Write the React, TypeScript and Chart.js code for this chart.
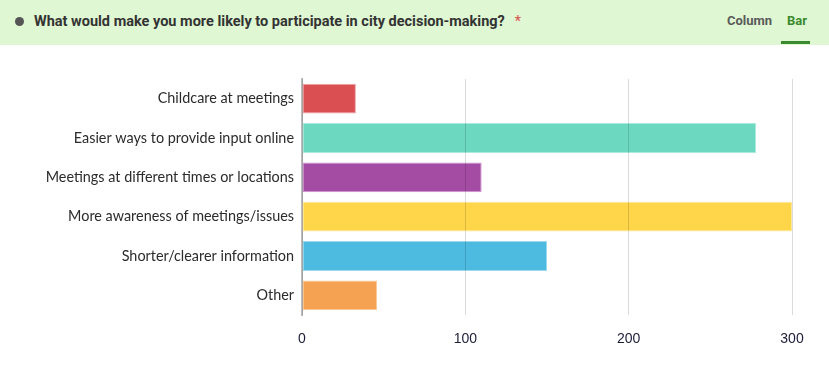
import React, { useEffect, useRef } from "react";
import { Chart, registerables } from "chart.js";

Chart.register(...registerables);

const categories = [
  "Childcare at meetings",
  "Easier ways to provide input online",
  "Meetings at different times or locations",
  "More awareness of meetings/issues",
  "Shorter/clearer information",
  "Other",
];
const counts = [33, 278, 110, 300, 150, 46];
const barColors = ["#d94f52", "#6dd8c0", "#a44ba4", "#ffd54a", "#4dbae0", "#f5a252"];
const barBorders = ["#f0a3a5", "#a8eadb", "#cf94cf", "#ffe899", "#9dd9ef", "#f9c896"];
const xTicks = [0, 100, 200, 300];

export default function App() {
  const ref = useRef<HTMLCanvasElement | null>(null);
  useEffect(() => {
    document.body.style.margin = "0";
    const chart = new Chart(ref.current!, {
      type: "bar",
      data: {
        labels: categories,
        datasets: [
          {
            data: counts,
            backgroundColor: barColors,
            borderColor: barBorders,
            borderWidth: 1,
            borderSkipped: false,
            categoryPercentage: 1,
            barPercentage: 0.76,
          },
        ],
      },
      options: {
        indexAxis: "y",
        animation: false,
        responsive: false,
        maintainAspectRatio: false,
        layout: { padding: { top: 29, right: 37, left: 0, bottom: 0 } },
        plugins: { legend: { display: false }, tooltip: { enabled: false } },
        scales: {
          x: {
            min: 0,
            max: 300,
            afterBuildTicks: (s: any) => {
              s.ticks = xTicks.map((v) => ({ value: v }));
            },
            grid: { color: "rgba(0,0,0,0.14)", drawTicks: false, z: 1 },
            border: { display: false },
            ticks: {
              padding: 16,
              color: "#1c1c3a",
              font: { family: "Liberation Sans", size: 14 },
            },
            afterFit: (s: any) => {
              s.height = 71;
            },
          },
          y: {
            grid: { display: false, drawTicks: false },
            border: { display: true, color: "#bdbdbd", width: 2 },
            ticks: {
              padding: 8,
              color: "#2b2b2b",
              font: { family: "Lato", size: 14.4 },
            },
            afterFit: (s: any) => {
              s.width = 302;
            },
          },
        },
      },
    });
    return () => chart.destroy();
  }, []);

  return (
    <div style={{ position: "relative", width: 829, height: 386, background: "#fff", overflow: "hidden" }}>
      <div
        style={{
          position: "absolute",
          left: 0,
          top: 0,
          width: 829,
          height: 45,
          background: "#dff7d2",
          fontFamily: "Roboto, 'Open Sans', sans-serif",
        }}
      >
        <div
          style={{
            position: "absolute",
            left: 15,
            top: 17,
            width: 9,
            height: 9,
            borderRadius: "50%",
            background: "#555",
          }}
        />
        <div
          style={{
            position: "absolute",
            left: 34,
            top: 13,
            fontSize: 14.5,
            fontWeight: 700,
            color: "#333",
            whiteSpace: "nowrap",
          }}
        >
          What would make you more likely to participate in city decision-making?
          <span style={{ color: "#d9534f", marginLeft: 10, fontWeight: 400 }}>*</span>
        </div>
        <div
          style={{
            position: "absolute",
            left: 727,
            top: 13,
            fontSize: 13,
            fontWeight: 700,
            color: "#5a5a5a",
          }}
        >
          Column
        </div>
        <div
          style={{
            position: "absolute",
            left: 787,
            top: 13,
            fontSize: 13,
            fontWeight: 700,
            color: "#3a8a2e",
          }}
        >
          Bar
        </div>
        <div
          style={{
            position: "absolute",
            left: 781,
            top: 41,
            width: 29,
            height: 3,
            background: "#3a8a2e",
          }}
        />
      </div>
      <canvas
        ref={ref}
        width={829}
        height={336}
        style={{ position: "absolute", left: 0, top: 50, width: 829, height: 336 }}
      />
    </div>
  );
}
